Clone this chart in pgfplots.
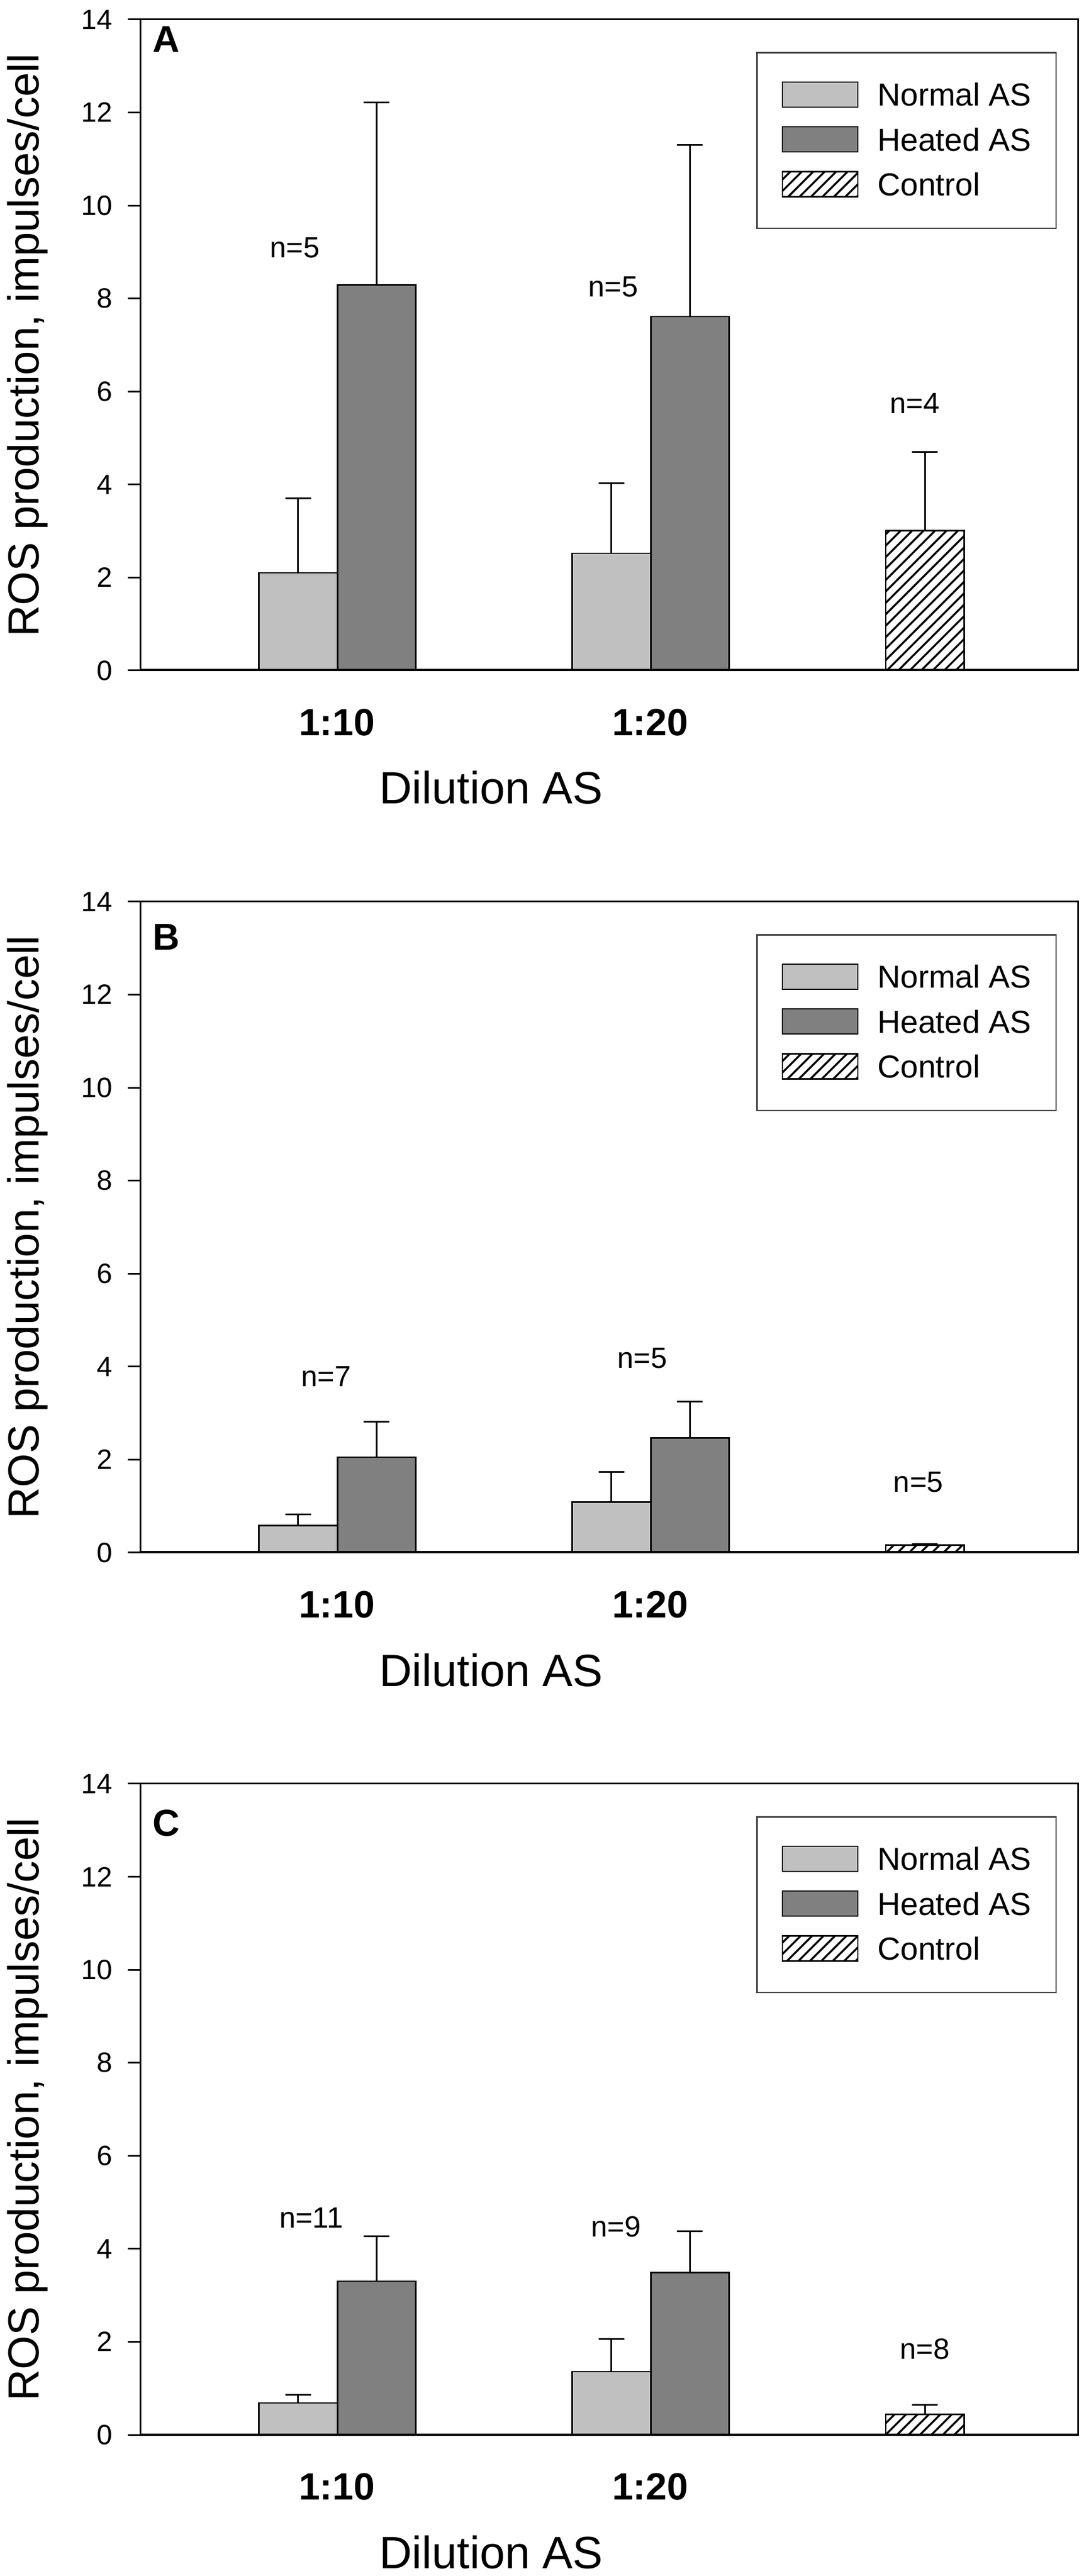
\documentclass[border=0pt]{standalone}
\usepackage{fontspec}
\setmainfont{Liberation Sans}
\usepackage{pgfplots}
\pgfplotsset{compat=1.18}
\usetikzlibrary{patterns.meta}
\definecolor{normalc}{HTML}{C0C0C0}
\definecolor{heatedc}{HTML}{808080}
\pgfplotsset{
  panel/.style={
    scale only axis, width=335.6pt, height=233.2pt,
    xmin=0.374, xmax=3.365, ymin=0, ymax=14,
    ytick={0,2,4,6,8,10,12,14},
    xtick={1,2}, xticklabels={1:10,1:20},
    tick pos=left,
    tick align=outside, major tick length=4.6pt,
    xtick style={draw=none}, ytick style={line width=0.6pt, black},
    axis line style={line width=0.6pt},
    /pgf/number format/assume math mode=true,
    yticklabel style={font=\fontsize{10}{12}\selectfont, inner sep=0pt, anchor=east, xshift=-5.4pt},
    xticklabel style={font=\fontsize{13.6}{16}\selectfont\bfseries, inner sep=0pt, anchor=north, yshift=-9pt},
    ylabel={ROS production, impulses/cell},
    ylabel style={font=\fontsize{15.6}{18}\selectfont, at={(axis description cs:-0.109,0.5)}, anchor=base},
    xlabel={Dilution AS},
    xlabel style={font=\fontsize{16.2}{19}\selectfont, at={(axis description cs:0.374,-0.205)}, anchor=base},
    legend cell align=left,
    legend style={at={(rel axis cs:0.657,0.950)}, anchor=north west, draw=black!75, line width=0.5pt, fill=white,
      font=\fontsize{11.4}{13.7}\selectfont, inner xsep=8.8pt, inner ysep=10.2pt, row sep=5.7pt,
      nodes={inner sep=0pt, anchor=base west}},
    legend image code/.code={\draw[##1] (0pt,-0.4pt) rectangle (27pt,8.6pt); \path (33.8pt,4pt);},
  },
  barbase/.style={ybar, bar width=0.25, bar shift=0pt, draw=black, line width=0.5pt,
    error bars/y dir=plus, error bars/y explicit,
    error bars/error bar style={line width=0.6pt, black, solid},
    error bars/error mark options={rotate=90, line width=0.6pt, mark size=4.6pt, black}},
  normalbar/.style={barbase, fill=normalc},
  heatedbar/.style={barbase, fill=heatedc},
  controlbar/.style={barbase, fill=white, pattern={Lines[angle=45,distance=2.9pt,line width=0.7pt]}},
}
\begin{document}
\begin{tikzpicture}
% ---------------- Panel A ----------------
\begin{axis}[panel, at={(0,632pt)}]
\addplot[normalbar] coordinates {(0.876,2.10) +- (0,1.60) (1.876,2.52) +- (0,1.51)};
\addplot[heatedbar] coordinates {(1.127,8.29) +- (0,3.93) (2.127,7.61) +- (0,3.69)};
\addplot[controlbar] coordinates {(2.877,3.01) +- (0,1.69)};
\legend{Normal AS, Heated AS, Control}
\draw[line width=1pt] (rel axis cs:0,0) -- (rel axis cs:1,0);
\node[font=\fontsize{13.4}{16}\selectfont\bfseries, anchor=north west, inner sep=0pt] at (rel axis cs:0.012,0.990) {A};
\node[font=\fontsize{10.5}{12}\selectfont, inner sep=0pt] at (axis cs:0.866,9.09) {n=5};
\node[font=\fontsize{10.5}{12}\selectfont, inner sep=0pt] at (axis cs:1.882,8.25) {n=5};
\node[font=\fontsize{10.5}{12}\selectfont, inner sep=0pt] at (axis cs:2.845,5.75) {n=4};
\end{axis}
% ---------------- Panel B ----------------
\begin{axis}[panel, at={(0,316pt)}]
\addplot[normalbar] coordinates {(0.876,0.585) +- (0,0.235) (1.876,1.085) +- (0,0.645)};
\addplot[heatedbar] coordinates {(1.127,2.05) +- (0,0.77) (2.127,2.47) +- (0,0.775)};
\addplot[controlbar] coordinates {(2.877,0.16) +- (0,0.03)};
\legend{Normal AS, Heated AS, Control}
\draw[line width=1pt] (rel axis cs:0,0) -- (rel axis cs:1,0);
\node[font=\fontsize{13.4}{16}\selectfont\bfseries, anchor=north west, inner sep=0pt] at (rel axis cs:0.012,0.966) {B};
\node[font=\fontsize{10.5}{12}\selectfont, inner sep=0pt] at (axis cs:0.966,3.79) {n=7};
\node[font=\fontsize{10.5}{12}\selectfont, inner sep=0pt] at (axis cs:1.975,4.18) {n=5};
\node[font=\fontsize{10.5}{12}\selectfont, inner sep=0pt] at (axis cs:2.856,1.52) {n=5};
\end{axis}
% ---------------- Panel C ----------------
\begin{axis}[panel, at={(0,0pt)}]
\addplot[normalbar] coordinates {(0.876,0.683) +- (0,0.174) (1.876,1.355) +- (0,0.705)};
\addplot[heatedbar] coordinates {(1.127,3.30) +- (0,0.97) (2.127,3.485) +- (0,0.895)};
\addplot[controlbar] coordinates {(2.877,0.44) +- (0,0.197)};
\legend{Normal AS, Heated AS, Control}
\draw[line width=1pt] (rel axis cs:0,0) -- (rel axis cs:1,0);
\node[font=\fontsize{13.4}{16}\selectfont\bfseries, anchor=north west, inner sep=0pt] at (rel axis cs:0.012,0.961) {C};
\node[font=\fontsize{10.5}{12}\selectfont, inner sep=0pt] at (axis cs:0.918,4.67) {n=11};
\node[font=\fontsize{10.5}{12}\selectfont, inner sep=0pt] at (axis cs:1.891,4.47) {n=9};
\node[font=\fontsize{10.5}{12}\selectfont, inner sep=0pt] at (axis cs:2.877,1.84) {n=8};
\end{axis}
\pgfresetboundingbox
\path[use as bounding box] (-50.4pt,-50.6pt) rectangle (337.6pt,872.2pt);
\end{tikzpicture}
\end{document}
